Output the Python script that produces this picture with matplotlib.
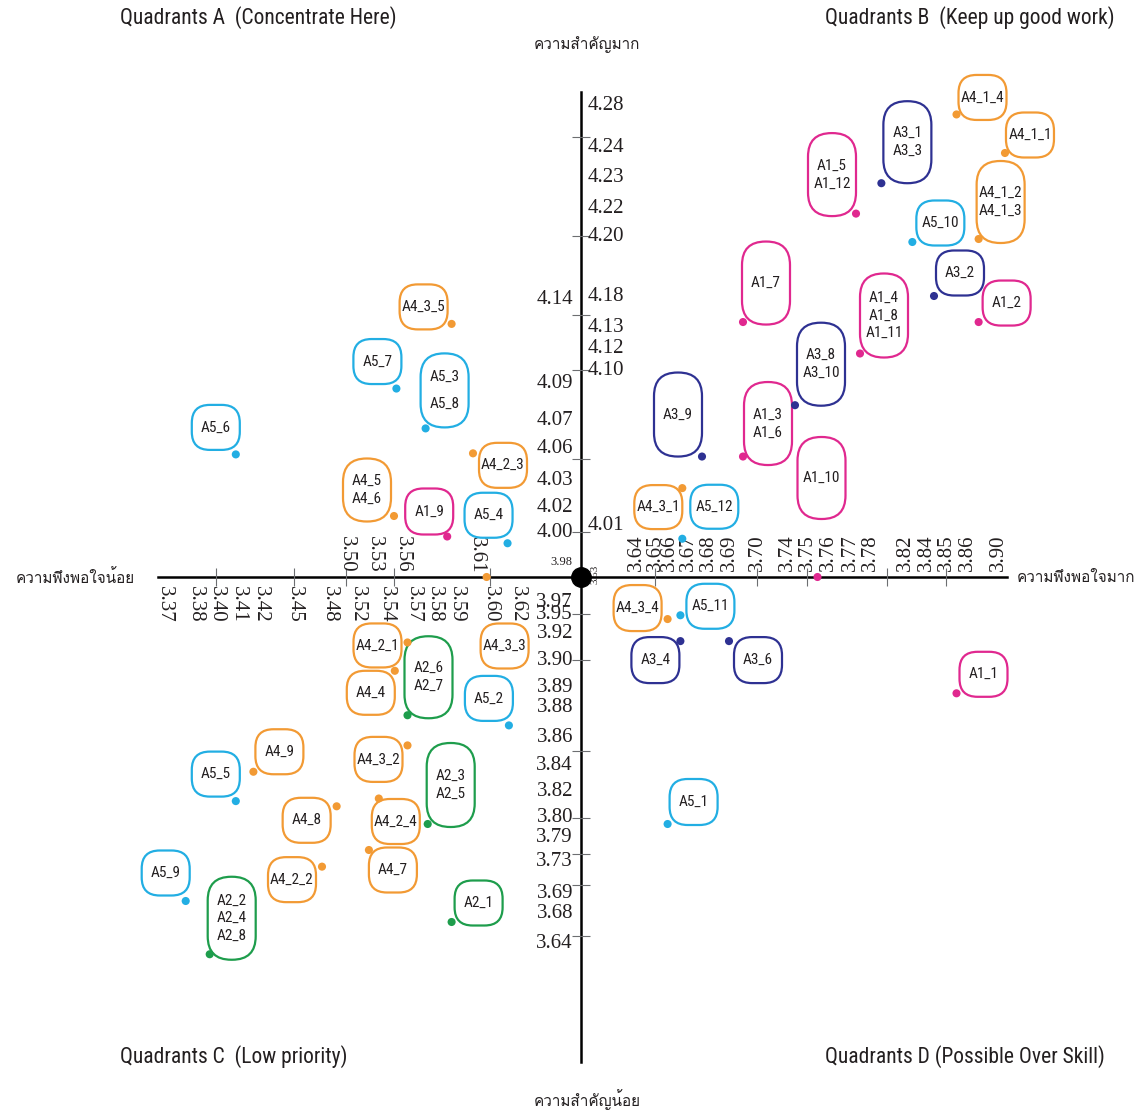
import matplotlib
matplotlib.use("Agg")
import matplotlib.pyplot as plt
import numpy as np
from matplotlib import font_manager
from matplotlib.ft2font import FT2Font
from matplotlib.patches import FancyBboxPatch
from matplotlib.transforms import ScaledTranslation, blended_transform_factory

# data: satisfaction (x) / importance (y) per item group
labels = ["A4_1_4", "A4_1_1", "A3_1\nA3_3", "A1_5\nA1_12", "A4_1_2\nA4_1_3",
          "A5_10", "A3_2", "A1_2", "A1_7", "A1_4\nA1_8\nA1_11",
          "A3_8\nA3_10", "A3_9", "A1_3\nA1_6", "A1_10", "A4_3_1", "A5_12",
          "A4_3_4", "A5_11", "A3_4", "A3_6", "A1_1", "A5_1",
          "A4_3_5", "A5_7", "A5_3\nA5_8", "A5_6", "A4_2_3", "A4_5\nA4_6",
          "A1_9", "A5_4",
          "A4_2_1", "A2_6\nA2_7", "A4_3_3", "A4_4", "A5_2", "A4_9", "A4_3_2",
          "A2_3\nA2_5", "A5_5", "A4_8", "A4_2_4", "A4_7", "A4_2_2", "A5_9",
          "A2_2\nA2_4\nA2_8", "A2_1"]
satisfaction = [3.855, 3.909, 3.793, 3.773, 3.875,
                3.827, 3.844, 3.875, 3.695, 3.775,
                3.744, 3.677, 3.695, 3.755, 3.667, 3.667,
                3.659, 3.666, 3.666, 3.690, 3.855, 3.659,
                3.588, 3.553, 3.576, 3.409, 3.595, 3.550,
                3.586, 3.613,
                3.565, 3.565, 3.599, 3.551, 3.614, 3.417, 3.565,
                3.577, 3.409, 3.489, 3.534, 3.527, 3.474, 3.377,
                3.394, 3.588]
importance = [4.271, 4.238, 4.228, 4.216, 4.199,
              4.198, 4.180, 4.138, 4.138, 4.115,
              4.078, 4.052, 4.052, 3.980, 4.027, 3.997,
              3.942, 3.948, 3.914, 3.914, 3.887, 3.797,
              4.135, 4.087, 4.067, 4.054, 4.055, 4.015,
              3.998, 3.995,
              3.913, 3.875, 3.980, 3.896, 3.868, 3.835, 3.854,
              3.797, 3.813, 3.809, 3.815, 3.760, 3.724, 3.686,
              3.625, 3.668]
x_mean = 3.63
y_mean = 3.98
center_labels = ["3.98", "3.53"]

x_ticks_below = [3.37, 3.38, 3.40, 3.41, 3.42, 3.45, 3.48, 3.52, 3.54, 3.57,
                 3.58, 3.59, 3.60, 3.62]
x_ticks_above_left = [3.50, 3.53, 3.56, 3.61]
x_ticks_above_right = [3.64, 3.65, 3.66, 3.67, 3.68, 3.69, 3.70, 3.74, 3.75,
                       3.76, 3.77, 3.78, 3.82, 3.84, 3.85, 3.86, 3.90]
y_ticks_right = [4.28, 4.24, 4.23, 4.22, 4.20, 4.18, 4.13, 4.12, 4.10, 4.01]
y_ticks_left = [4.14, 4.09, 4.07, 4.06, 4.03, 4.02, 4.00, 3.97, 3.95, 3.92,
                3.90, 3.89, 3.88, 3.86, 3.84, 3.82, 3.80, 3.79, 3.73, 3.69,
                3.68, 3.64]
x_minor = [3.40, 3.45, 3.50, 3.55, 3.60, 3.65, 3.70, 3.75, 3.80, 3.85]
y_minor = [4.25, 4.20, 4.15, 4.10, 4.05, 4.00, 3.95, 3.90, 3.85, 3.80,
           3.75, 3.70, 3.65]

group_colors = {"A1": "#E0288F", "A2": "#1E9D4C", "A3": "#2E3192",
                "A4": "#F29A34", "A5": "#22AEE3"}

# layout (pixels)
W, H = 1144, 1113
x_scale_px = [(3.37, 164), (3.38, 195), (3.40, 216), (3.41, 238), (3.42, 260),
              (3.45, 294), (3.48, 329), (3.50, 346), (3.52, 357), (3.53, 374),
              (3.54, 386), (3.56, 402), (3.57, 413), (3.58, 434), (3.59, 456),
              (3.60, 490), (3.62, 517), (3.63, 581), (3.64, 636), (3.65, 655),
              (3.66, 669), (3.67, 688), (3.68, 708), (3.69, 729), (3.70, 757),
              (3.74, 787), (3.75, 807), (3.76, 828), (3.77, 850), (3.78, 870),
              (3.82, 905), (3.84, 926), (3.85, 946), (3.86, 967), (3.90, 998)]
y_scale_px = [(4.28, 105), (4.24, 147), (4.23, 177), (4.22, 208), (4.20, 236),
              (4.18, 296), (4.13, 327), (4.12, 348), (4.10, 370), (4.09, 383),
              (4.07, 420), (4.06, 448), (4.03, 480), (4.02, 507), (4.01, 525),
              (4.00, 532), (3.98, 577), (3.97, 602), (3.95, 614), (3.92, 633),
              (3.90, 660), (3.89, 687), (3.88, 708), (3.86, 737), (3.84, 765),
              (3.82, 792), (3.80, 818), (3.79, 838), (3.73, 862), (3.69, 893),
              (3.68, 913), (3.64, 943)]
# box centre relative to its dot (right, down) and box height
box_offset = [(26, -17), (25, -18), (26, -41), (-24, -39), (22, -37),
              (28, -19), (26, -23), (28, -19), (23, -39), (24, -38),
              (26, -41), (-24, -42), (25, -33), (4, -99), (-24, 19), (32, -32),
              (-30, -11), (30, -9), (-25, 19), (29, 19), (27, -19), (26, -22),
              (-28, -17), (-19, -27), (19, -38), (-20, -27), (30, 12), (-27, -26),
              (-18, -25), (-19, -28),
              (-30, 3), (21, -38), (18, 69), (-24, 22), (-20, -27), (26, -20),
              (-29, 14), (23, -39), (-20, -27), (-30, 14), (17, 23), (24, 20),
              (-30, 13), (-20, -28), (22, -36), (27, -19)]
box_height = [45, 45, 82, 83, 82,
              45, 45, 45, 83, 84,
              83, 84, 83, 82, 44, 44,
              46, 45, 46, 46, 45, 46,
              45, 45, 74, 45, 45, 63,
              46, 45,
              44, 82, 45, 44, 45, 45, 45,
              84, 45, 45, 45, 45, 45, 45,
              83, 45]
label_nudge = {3.61: (-27, 0), 4.14: (0, 21)}


def first_family(ch, fallback="DejaVu Sans"):
    for f in font_manager.fontManager.ttflist:
        try:
            if FT2Font(f.fname).get_char_index(ord(ch)):
                return f.name
        except Exception:
            continue
    return fallback


names = {f.name for f in font_manager.fontManager.ttflist}
narrow = next((n for n in ["Liberation Sans Narrow", "Roboto Condensed",
                           "Open Sans Condensed", "Liberation Sans"] if n in names),
              "DejaVu Sans")
thai = first_family("ค")
serif = "Liberation Serif"


def piecewise(pairs):
    v = np.array([p[0] for p in pairs], float)
    q = np.array([p[1] for p in pairs], float)
    o = np.argsort(v)
    v, q = v[o], q[o]

    def lin(t, a, b):
        t = np.asarray(t, float)
        out = np.interp(t, a, b)
        out = np.where(t < a[0], b[0] + (t - a[0]) * (b[1] - b[0]) / (a[1] - a[0]), out)
        out = np.where(t > a[-1], b[-1] + (t - a[-1]) * (b[-1] - b[-2]) / (a[-1] - a[-2]), out)
        return out

    return (lambda t: lin(t, v, q)), (lambda t: lin(t, q, v))


fx, ix = piecewise(x_scale_px)
fy, iy = piecewise([(v, H - p) for v, p in y_scale_px])

fig = plt.figure(figsize=(W / 100, H / 100), dpi=100)
ax = fig.add_axes([0, 0, 1, 1])
ax.set_xscale("function", functions=(fx, ix))
ax.set_yscale("function", functions=(fy, iy))
ax.set_xlim(float(ix(0)), float(ix(W)))
ax.set_ylim(float(iy(0)), float(iy(H)))
ax.axis("off")

# axes cross
bx = blended_transform_factory(ax.transAxes, ax.transData)
by = blended_transform_factory(ax.transData, ax.transAxes)
ax.plot([158 / W, 1007 / W], [y_mean, y_mean], color="black", lw=1.8, transform=bx, zorder=2)
ax.plot([x_mean, x_mean], [1 - 92 / H, 1 - 1062 / H], color="black", lw=1.8, transform=by, zorder=2)
ax.plot(x_minor, [y_mean] * len(x_minor), ls="none", marker="|", ms=13, mew=0.8,
        color="#6d6e71", zorder=2)
ax.plot([x_mean] * len(y_minor), y_minor, ls="none", marker="_", ms=13, mew=0.8,
        color="#6d6e71", zorder=2)
ax.plot([x_mean], [y_mean], "o", color="black", ms=14, zorder=6)

tick_kw = dict(textcoords="offset pixels", fontsize=15, family=serif,
               color="#231f20", zorder=2)
for v in x_ticks_below:
    ax.annotate(f"{v:.2f}", (v, y_mean), xytext=(0, -9), rotation=-90,
                ha="center", va="top", **tick_kw)
for v in x_ticks_above_left:
    dx, dy = label_nudge.get(v, (0, 0))
    ax.annotate(f"{v:.2f}", (v, y_mean), xytext=(dx, 4 + dy), rotation=-90,
                ha="center", va="bottom", **tick_kw)
for v in x_ticks_above_right:
    ax.annotate(f"{v:.2f}", (v, y_mean), xytext=(0, 6), rotation=90,
                ha="center", va="bottom", **tick_kw)
for v in y_ticks_right:
    ax.annotate(f"{v:.2f}", (x_mean, v), xytext=(7, 0), ha="left", va="center", **tick_kw)
for v in y_ticks_left:
    dx, dy = label_nudge.get(v, (0, 0))
    ax.annotate(f"{v:.2f}", (x_mean, v), xytext=(-8 + dx, dy), ha="right",
                va="center", **tick_kw)
ax.annotate(center_labels[0], (x_mean, y_mean), xytext=(-20, 15), textcoords="offset pixels",
            ha="center", va="center", fontsize=9, family=serif, color="#231f20")
ax.annotate(center_labels[1], (x_mean, y_mean), xytext=(14, 3), textcoords="offset pixels",
            ha="center", va="center", rotation=90, fontsize=8, family=serif, color="#231f20")

# points and their label boxes
colors = [group_colors[lab[:2]] for lab in labels]
ax.scatter(satisfaction, importance, s=34, c=colors, zorder=4, linewidths=0)
for lab, x, y, (dx, dy), h, col in zip(labels, satisfaction, importance,
                                       box_offset, box_height, colors):
    w = 48
    r = 18 if h < 50 else 23.5
    trans = ScaledTranslation(x, y, ax.transData)
    box = FancyBboxPatch((dx - w / 2, -dy - h / 2), w, h,
                         boxstyle=f"round,pad=0,rounding_size={r}",
                         transform=trans, fc="white", ec=col, lw=1.6,
                         zorder=3, clip_on=False)
    ax.add_patch(box)
    ls = 2.2 if lab == "A5_3\nA5_8" else 1.35
    ax.annotate(lab, (x, y), xytext=(dx, -dy), textcoords="offset pixels",
                ha="center", va="center", fontsize=11, family=narrow,
                linespacing=ls, color="#231f20", zorder=5)

# titles
title_kw = dict(fontsize=15.5, family=narrow, color="#231f20", va="center")
fig.text(120 / W, 1 - 18 / H, "Quadrants A  (Concentrate Here)", ha="left", **title_kw)
fig.text(825 / W, 1 - 18 / H, "Quadrants B  (Keep up good work)", ha="left", **title_kw)
fig.text(120 / W, 1 - 1057 / H, "Quadrants C  (Low priority)", ha="left", **title_kw)
fig.text(825 / W, 1 - 1057 / H, "Quadrants D (Possible Over Skill)", ha="left", **title_kw)

thai_kw = dict(fontsize=11, family=[thai, "DejaVu Sans"], color="#231f20", va="center")
fig.text(135 / W, 1 - 578 / H, "ความพึงพอใจน้อย", ha="right", **thai_kw)
fig.text(1017 / W, 1 - 578 / H, "ความพึงพอใจมาก", ha="left", **thai_kw)
fig.text(587 / W, 1 - 45 / H, "ความสำคัญมาก", ha="center", **thai_kw)
fig.text(587 / W, 1 - 1100 / H, "ความสำคัญน้อย", ha="center", **thai_kw)

fig.savefig("out.png", dpi=100, facecolor="white")
